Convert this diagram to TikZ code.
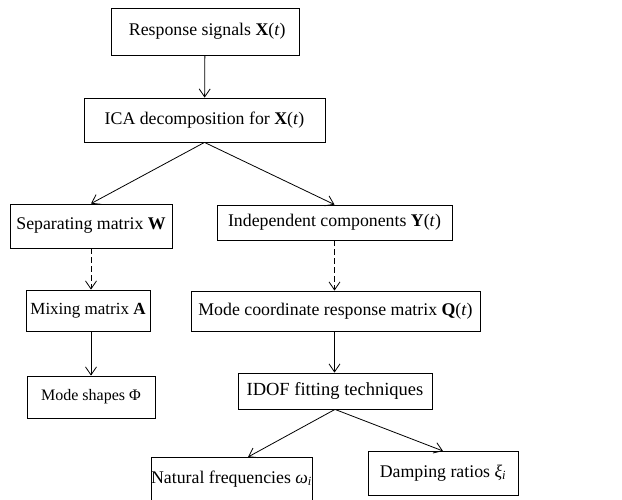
\documentclass[tikz,border=0pt]{standalone}
\usepackage{fontspec}
\setmainfont{Liberation Serif}
\usetikzlibrary{arrows.meta}
\tikzstyle{block}=[draw,line width=0.8pt,inner sep=0pt,font=\fontsize{17.8}{20}\selectfont]
\newcommand{\bv}[1]{\textbf{#1}}

\begin{document}
\begin{tikzpicture}[x=1pt,y=-1pt,line width=0.8pt,>={Straight Barb[length=8pt,width=11pt]}]
\useasboundingbox (0,0) rectangle (622,499);
\node[block,minimum width=188pt,minimum height=47pt] at (205,31.5) (resp) {\ Response signals \bv{X}(\textit{t})};
\node[block,minimum width=241pt,minimum height=44pt] at (204.5,120) (ica) {ICA decomposition for \bv{X}(\textit{t})};
\node[block,minimum width=162pt,minimum height=44pt] at (91,226) (sep) {Separating matrix \bv{W}};
\node[block,minimum width=235pt,minimum height=35pt] at (334.5,222.5) (ind) {Independent components \bv{Y}(\textit{t})};
\node[block,minimum width=124pt,minimum height=41pt,font=\fontsize{17}{20}\selectfont] at (88,310.5) (mix) {Mixing matrix \bv{A}};
\node[block,minimum width=128pt,minimum height=42pt,font=\fontsize{16}{18}\selectfont] at (91,397) (shp) {Mode shapes Φ};
\node[block,minimum width=289pt,minimum height=40pt] at (335.5,311) (modq) {Mode coordinate response matrix \bv{Q}(\textit{t})};
\node[block,minimum width=194pt,minimum height=36pt,font=\fontsize{18.5}{20}\selectfont] at (335,391) (idof) {IDOF fitting techniques};
\node[block,minimum width=159pt,minimum height=44pt] at (231.5,479) (nat) {Natural frequencies \textit{ω}\textsubscript{\textit{i}}};
\node[block,minimum width=150pt,minimum height=44pt] at (443,473) (damp) {Damping ratios \textit{ξ}\textsubscript{\textit{i}}};
\coordinate (natin) at (248,457);
\coordinate (dampin) at (443,451);
\draw[->] (resp) -- (ica);
\draw[->] (ica.south) -- (sep.north);
\draw[->] (ica.south) -- (ind.north);
\draw[->, dash pattern=on 6pt off 3pt] (sep.south) -- (sep.south |- mix.north);
\draw[->] (sep.south |- mix.south) -- (sep.south |- shp.north);
\draw[->, dash pattern=on 6pt off 3pt] (ind.south) -- (ind.south |- modq.north);
\draw[->] (ind.south |- modq.south) -- (ind.south |- idof.north);
\draw[->] (idof.south) -- (natin);
\draw[->] (idof.south) -- (dampin);
\end{tikzpicture}
\end{document}
